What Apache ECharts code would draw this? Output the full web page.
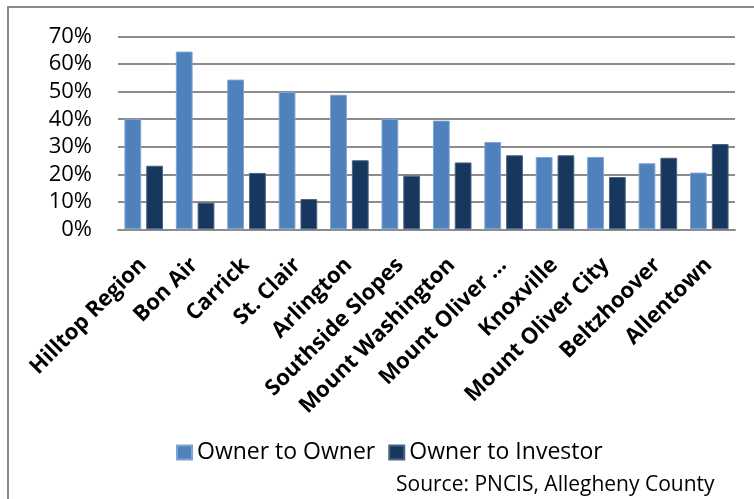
<!DOCTYPE html>
<html>
<head>
<meta charset="utf-8">
<script src="https://cdn.jsdelivr.net/npm/echarts@6/dist/echarts.min.js"></script>
<style>
html,body{margin:0;padding:0;background:#fff;}
#chart{width:754px;height:499px;}
</style>
</head>
<body>
<div id="chart"></div>
<script>
var categories = ["Hilltop Region","Bon Air","Carrick","St. Clair","Arlington","Southside Slopes","Mount Washington","Mount Oliver ...","Knoxville","Mount Oliver City","Beltzhoover","Allentown"];
var ownerToOwner = [40.1, 64.6, 54.4, 49.9, 48.9, 40.1, 39.5, 31.7, 26.3, 26.3, 24.0, 20.6];
var ownerToInvestor = [23.1, 9.7, 20.5, 11.0, 25.1, 19.5, 24.3, 26.9, 26.9, 19.0, 26.0, 31.0];
var yTicks = [0, 10, 20, 30, 40, 50, 60, 70];
var seriesNames = ["Owner to Owner", "Owner to Investor"];
var sourceText = "Source: PNCIS, Allegheny County";

var chart = echarts.init(document.getElementById('chart'), null, {renderer:'canvas'});
var FONT = '"Open Sans", "Noto Sans", sans-serif';
chart.setOption({
  animation: false,
  backgroundColor: '#ffffff',
  textStyle: {fontFamily: FONT, color: '#000'},
  grid: {left: 118, right: 19, top: 36.7, bottom: 269.7, containLabel: false, outerBoundsMode: 'none'},
  legend: {
    left: 176, top: 441, padding: 0,
    itemWidth: 15, itemHeight: 14, itemGap: 13,
    icon: 'rect',
    textStyle: {fontFamily: FONT, fontSize: 23, color: '#000'},
    data: seriesNames
  },
  xAxis: {
    type: 'category',
    data: categories,
    axisLine: {show: true, lineStyle: {color: '#8c8c8c', width: 2}},
    axisTick: {show: false},
    axisLabel: {
      interval: 0, rotate: 45, margin: 16,
      align: 'right', verticalAlign: 'top', padding: [0, 12, 0, 0],
      fontFamily: FONT, fontWeight: 'bold', fontSize: 22, color: '#000'
    }
  },
  yAxis: {
    type: 'value',
    min: yTicks[0], max: yTicks[yTicks.length-1], interval: yTicks[1]-yTicks[0],
    axisLine: {show: false},
    axisTick: {show: false},
    splitLine: {show: true, lineStyle: {color: '#8c8c8c', width: 2}},
    axisLabel: {formatter: '{value}%', margin: 26, fontFamily: FONT, fontSize: 22, color: '#000'}
  },
  series: [
    {
      name: seriesNames[0], type: 'bar', data: ownerToOwner,
      barGap: '30%', barCategoryGap: '25%',
      itemStyle: {color: '#4f81bd', borderColor: '#7fa3d0', borderWidth: 1}
    },
    {
      name: seriesNames[1], type: 'bar', data: ownerToInvestor,
      barGap: '30%', barCategoryGap: '25%',
      itemStyle: {color: '#17375e', borderColor: '#4a6485', borderWidth: 1}
    }
  ],
  graphic: [
    {type: 'polyline', shape: {points: [[8, 520], [8, 7], [760, 7]]}, style: {stroke: '#8a8a8a', lineWidth: 2, fill: null}, silent: true},
    {type: 'text', left: 396, top: 475, style: {text: sourceText, fontFamily: FONT, fontSize: 21, fill: '#000'}}
  ]
});
</script>
</body>
</html>
